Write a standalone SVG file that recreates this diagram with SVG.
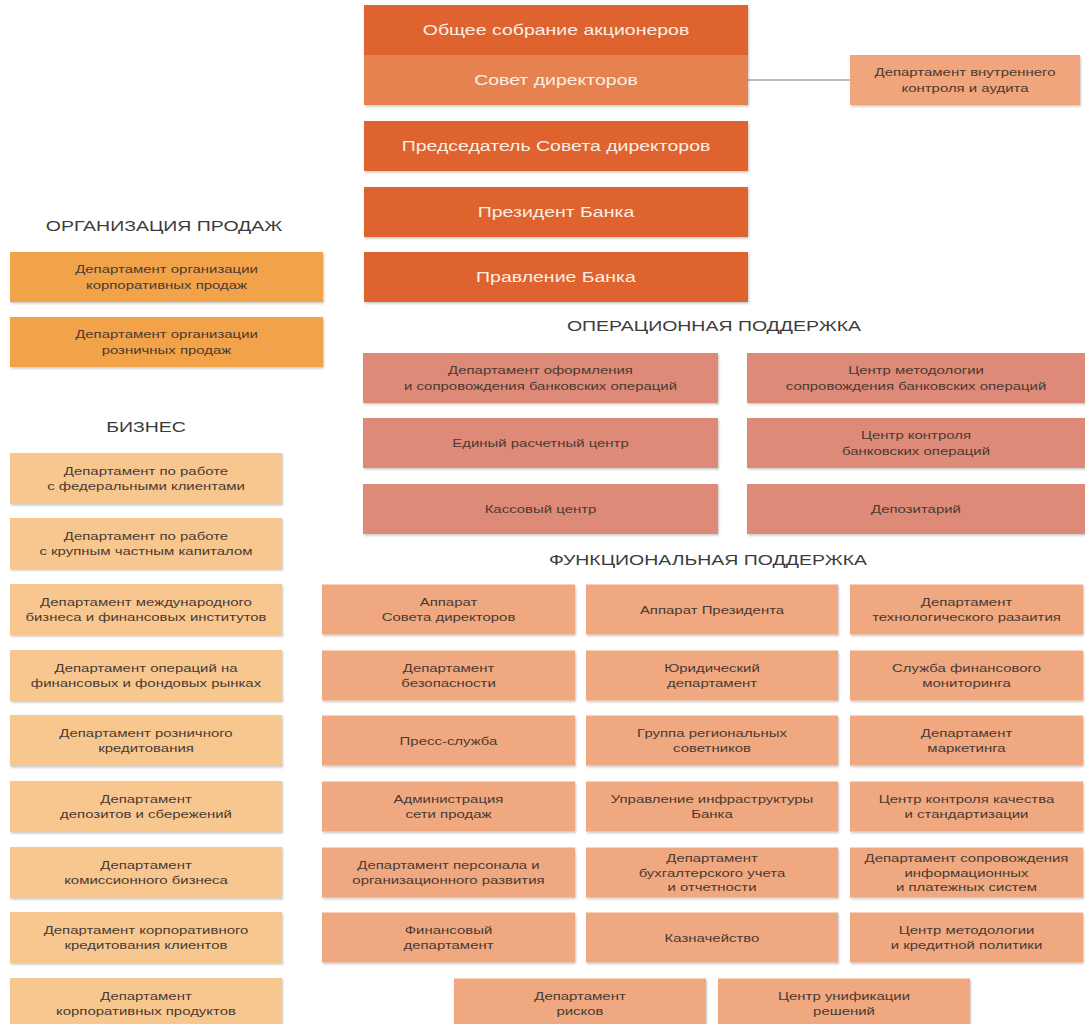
<svg xmlns="http://www.w3.org/2000/svg" width="1085" height="1024" viewBox="0 0 1085 1024">
<defs>
<filter id="sh" x="-5%" y="-15%" width="110%" height="140%">
<feDropShadow dx="1" dy="1.5" stdDeviation="1.2" flood-color="#000" flood-opacity="0.22"/>
</filter>
<style>
rect{filter:url(#sh)}
.dk{fill:#DE632E}
.lt{fill:#E5824F}
.au{fill:#F0A57D}
.sa{fill:#F2A248}
.bz{fill:#F8C790}
.op{fill:#DE8A78}
.fn{fill:#F0A880}
text{font-family:"Liberation Sans",Arial,sans-serif;text-anchor:middle;transform:scale(1.3,1)}
.tt{font-size:15px;fill:#FCEEE4}
.t{font-size:11.5px;fill:#4A3A32}
.h{font-size:15px;fill:#3C3C3C}
.cn{stroke:#7A7A7A;stroke-width:1.2;fill:none}
</style>
</defs>
<rect width="1085" height="1024" fill="#FFFFFF" style="filter:none"/>

<g id="section-labels">
<g transform="translate(164,231)"><text class="h">ОРГАНИЗАЦИЯ ПРОДАЖ</text></g>
<g transform="translate(146,432)"><text class="h">БИЗНЕС</text></g>
<g transform="translate(714,331)"><text class="h">ОПЕРАЦИОННАЯ ПОДДЕРЖКА</text></g>
<g transform="translate(708,565)"><text class="h">ФУНКЦИОНАЛЬНАЯ  ПОДДЕРЖКА</text></g>
</g>

<g id="connectors">
<line class="cn" x1="748" y1="80" x2="850" y2="80"/>
</g>

<!-- top -->
<g id="n-gsm" transform="translate(556,30)"><rect class="dk" x="-192" y="-25" width="384" height="50"/><text class="tt" y="5">Общее собрание акционеров</text></g>
<g id="n-sd" transform="translate(556,80)"><rect class="lt" x="-192" y="-25" width="384" height="50"/><text class="tt" y="5">Совет директоров</text></g>
<g id="n-chair" transform="translate(556,146)"><rect class="dk" x="-192" y="-25" width="384" height="50"/><text class="tt" y="5">Председатель Совета директоров</text></g>
<g id="n-pres" transform="translate(556,212)"><rect class="dk" x="-192" y="-25" width="384" height="50"/><text class="tt" y="5">Президент Банка</text></g>
<g id="n-board" transform="translate(556,277)"><rect class="dk" x="-192" y="-25" width="384" height="50"/><text class="tt" y="5">Правление Банка</text></g>
<g id="n-audit" transform="translate(965,80)"><rect class="au" x="-115" y="-25" width="230" height="50"/><text class="t"><tspan x="0" y="-4">Департамент внутреннего</tspan><tspan x="0" y="12">контроля и аудита</tspan></text></g>

<!-- sales -->
<g id="n-sales1" transform="translate(166.5,277)"><rect class="sa" x="-156.5" y="-25" width="313" height="50"/><text class="t"><tspan x="0" y="-4">Департамент организации</tspan><tspan x="0" y="12">корпоративных продаж</tspan></text></g>
<g id="n-sales2" transform="translate(166.5,342)"><rect class="sa" x="-156.5" y="-25" width="313" height="50"/><text class="t"><tspan x="0" y="-4">Департамент организации</tspan><tspan x="0" y="12">розничных продаж</tspan></text></g>

<!-- business -->
<g id="n-b1" transform="translate(146,478.5)"><rect class="bz" x="-136" y="-25.5" width="272" height="51"/><text class="t"><tspan x="0" y="-4">Департамент по работе</tspan><tspan x="0" y="12">с федеральными клиентами</tspan></text></g>
<g id="n-b2" transform="translate(146,543.5)"><rect class="bz" x="-136" y="-25.5" width="272" height="51"/><text class="t"><tspan x="0" y="-4">Департамент по работе</tspan><tspan x="0" y="12">с крупным частным капиталом</tspan></text></g>
<g id="n-b3" transform="translate(146,609.5)"><rect class="bz" x="-136" y="-25.5" width="272" height="51"/><text class="t"><tspan x="0" y="-4">Департамент международного</tspan><tspan x="0" y="12">бизнеса и финансовых институтов</tspan></text></g>
<g id="n-b4" transform="translate(146,675.5)"><rect class="bz" x="-136" y="-25.5" width="272" height="51"/><text class="t"><tspan x="0" y="-4">Департамент операций на</tspan><tspan x="0" y="12">финансовых и фондовых рынках</tspan></text></g>
<g id="n-b5" transform="translate(146,740.5)"><rect class="bz" x="-136" y="-25.5" width="272" height="51"/><text class="t"><tspan x="0" y="-4">Департамент розничного</tspan><tspan x="0" y="12">кредитования</tspan></text></g>
<g id="n-b6" transform="translate(146,806.5)"><rect class="bz" x="-136" y="-25.5" width="272" height="51"/><text class="t"><tspan x="0" y="-4">Департамент</tspan><tspan x="0" y="12">депозитов и сбережений</tspan></text></g>
<g id="n-b7" transform="translate(146,872.5)"><rect class="bz" x="-136" y="-25.5" width="272" height="51"/><text class="t"><tspan x="0" y="-4">Департамент</tspan><tspan x="0" y="12">комиссионного бизнеса</tspan></text></g>
<g id="n-b8" transform="translate(146,937.5)"><rect class="bz" x="-136" y="-25.5" width="272" height="51"/><text class="t"><tspan x="0" y="-4">Департамент корпоративного</tspan><tspan x="0" y="12">кредитования  клиентов</tspan></text></g>
<g id="n-b9" transform="translate(146,1003.5)"><rect class="bz" x="-136" y="-25.5" width="272" height="51"/><text class="t"><tspan x="0" y="-4">Департамент</tspan><tspan x="0" y="12">корпоративных продуктов</tspan></text></g>

<!-- operational -->
<g id="n-o1" transform="translate(540.5,378)"><rect class="op" x="-177.5" y="-25" width="355" height="50"/><text class="t"><tspan x="0" y="-4">Департамент оформления</tspan><tspan x="0" y="12">и сопровождения банковских операций</tspan></text></g>
<g id="n-o2" transform="translate(916,378)"><rect class="op" x="-169" y="-25" width="338" height="50"/><text class="t"><tspan x="0" y="-4">Центр методологии</tspan><tspan x="0" y="12">сопровождения банковских операций</tspan></text></g>
<g id="n-o3" transform="translate(540.5,443)"><rect class="op" x="-177.5" y="-25" width="355" height="50"/><text class="t" y="4">Единый расчетный центр</text></g>
<g id="n-o4" transform="translate(916,443)"><rect class="op" x="-169" y="-25" width="338" height="50"/><text class="t"><tspan x="0" y="-4">Центр контроля</tspan><tspan x="0" y="12">банковских операций</tspan></text></g>
<g id="n-o5" transform="translate(540.5,509)"><rect class="op" x="-177.5" y="-25" width="355" height="50"/><text class="t" y="4">Кассовый центр</text></g>
<g id="n-o6" transform="translate(916,509)"><rect class="op" x="-169" y="-25" width="338" height="50"/><text class="t" y="4">Депозитарий</text></g>

<!-- functional -->
<g id="n-f1" transform="translate(448.5,609.5)"><rect class="fn" x="-126.5" y="-25" width="253" height="50"/><text class="t"><tspan x="0" y="-4">Аппарат</tspan><tspan x="0" y="12">Совета директоров</tspan></text></g>
<g id="n-f2" transform="translate(712,609.5)"><rect class="fn" x="-126" y="-25" width="252" height="50"/><text class="t" y="4">Аппарат Президента</text></g>
<g id="n-f3" transform="translate(966.5,609.5)"><rect class="fn" x="-116.5" y="-25" width="233" height="50"/><text class="t"><tspan x="0" y="-4">Департамент</tspan><tspan x="0" y="12">технологического разаития</tspan></text></g>

<g id="n-f4" transform="translate(448.5,675.5)"><rect class="fn" x="-126.5" y="-25" width="253" height="50"/><text class="t"><tspan x="0" y="-4">Департамент</tspan><tspan x="0" y="12">безопасности</tspan></text></g>
<g id="n-f5" transform="translate(712,675.5)"><rect class="fn" x="-126" y="-25" width="252" height="50"/><text class="t"><tspan x="0" y="-4">Юридический</tspan><tspan x="0" y="12">департамент</tspan></text></g>
<g id="n-f6" transform="translate(966.5,675.5)"><rect class="fn" x="-116.5" y="-25" width="233" height="50"/><text class="t"><tspan x="0" y="-4">Служба финансового</tspan><tspan x="0" y="12">мониторинга</tspan></text></g>

<g id="n-f7" transform="translate(448.5,740.5)"><rect class="fn" x="-126.5" y="-25" width="253" height="50"/><text class="t" y="4">Пресс-служба</text></g>
<g id="n-f8" transform="translate(712,740.5)"><rect class="fn" x="-126" y="-25" width="252" height="50"/><text class="t"><tspan x="0" y="-4">Группа региональных</tspan><tspan x="0" y="12">советников</tspan></text></g>
<g id="n-f9" transform="translate(966.5,740.5)"><rect class="fn" x="-116.5" y="-25" width="233" height="50"/><text class="t"><tspan x="0" y="-4">Департамент</tspan><tspan x="0" y="12">маркетинга</tspan></text></g>

<g id="n-f10" transform="translate(448.5,806.5)"><rect class="fn" x="-126.5" y="-25" width="253" height="50"/><text class="t"><tspan x="0" y="-4">Администрация</tspan><tspan x="0" y="12">сети продаж</tspan></text></g>
<g id="n-f11" transform="translate(712,806.5)"><rect class="fn" x="-126" y="-25" width="252" height="50"/><text class="t"><tspan x="0" y="-4">Управление инфраструктуры</tspan><tspan x="0" y="12">Банка</tspan></text></g>
<g id="n-f12" transform="translate(966.5,806.5)"><rect class="fn" x="-116.5" y="-25" width="233" height="50"/><text class="t"><tspan x="0" y="-4">Центр  контроля качества</tspan><tspan x="0" y="12">и стандартизации</tspan></text></g>

<g id="n-f13" transform="translate(448.5,872.5)"><rect class="fn" x="-126.5" y="-25" width="253" height="50"/><text class="t"><tspan x="0" y="-4">Департамент персонала и</tspan><tspan x="0" y="12">организационного развития</tspan></text></g>
<g id="n-f14" transform="translate(712,872.5)"><rect class="fn" x="-126" y="-25" width="252" height="50"/><text class="t"><tspan x="0" y="-10.5">Департамент</tspan><tspan x="0" y="4">бухгалтерского учета</tspan><tspan x="0" y="18.5">и отчетности</tspan></text></g>
<g id="n-f15" transform="translate(966.5,872.5)"><rect class="fn" x="-116.5" y="-25" width="233" height="50"/><text class="t"><tspan x="0" y="-10.5">Департамент сопровождения</tspan><tspan x="0" y="4">информационных</tspan><tspan x="0" y="18.5">и платежных систем</tspan></text></g>

<g id="n-f16" transform="translate(448.5,937.5)"><rect class="fn" x="-126.5" y="-25" width="253" height="50"/><text class="t"><tspan x="0" y="-4">Финансовый</tspan><tspan x="0" y="12">департамент</tspan></text></g>
<g id="n-f17" transform="translate(712,937.5)"><rect class="fn" x="-126" y="-25" width="252" height="50"/><text class="t" y="4">Казначейство</text></g>
<g id="n-f18" transform="translate(966.5,937.5)"><rect class="fn" x="-116.5" y="-25" width="233" height="50"/><text class="t"><tspan x="0" y="-4">Центр методологии</tspan><tspan x="0" y="12">и кредитной политики</tspan></text></g>

<g id="n-f19" transform="translate(580,1003.5)"><rect class="fn" x="-126" y="-25" width="252" height="50"/><text class="t"><tspan x="0" y="-4">Департамент</tspan><tspan x="0" y="12">рисков</tspan></text></g>
<g id="n-f20" transform="translate(844,1003.5)"><rect class="fn" x="-126" y="-25" width="252" height="50"/><text class="t"><tspan x="0" y="-4">Центр унификации</tspan><tspan x="0" y="12">решений</tspan></text></g>
</svg>
